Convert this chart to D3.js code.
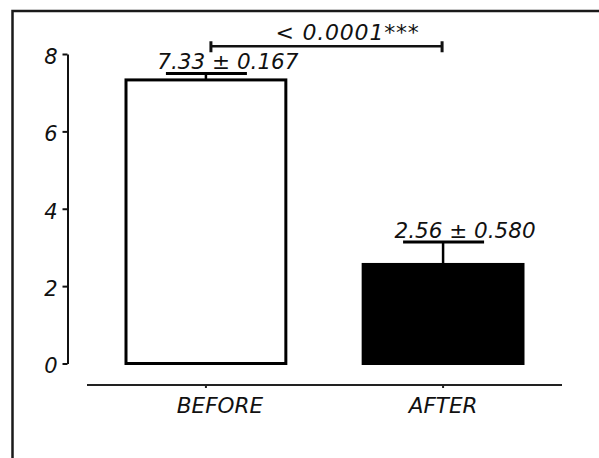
<!DOCTYPE html>
<html>
<head>
<meta charset="utf-8">
<script src="https://cdn.jsdelivr.net/npm/d3@7"></script>
<style>
  html, body { margin: 0; background: #fff; overflow: hidden; }
  svg { display: block; }
  svg text { font-family: "DejaVu Sans", Verdana, sans-serif; font-style: italic; fill: #111; }
</style>
</head>
<body>
<div id="chart"></div>
<script>
// data
var categories = ['BEFORE', 'AFTER'];
var means = [7.33, 2.56];
var sems = [0.167, 0.580];
var meanLabels = ['7.33 \u00b1 0.167', '2.56 \u00b1 0.580'];
var barFills = ['#fff', '#000'];
var yTicks = [0, 2, 4, 6, 8];
var pLabel = '< 0.0001***';
var pLevel = 8.2; // height of the bracket, in data units

var width = 599, height = 458;

var svg = d3.select('#chart').append('svg')
    .attr('width', width)
    .attr('height', height);

// outer frame, runs off the right and bottom edges
svg.append('path')
    .attr('d', 'M12.5,' + height + 'V11H' + width)
    .attr('fill', 'none')
    .attr('stroke', '#1a1a1a')
    .attr('stroke-width', 2.5);

var x = d3.scaleBand()
    .domain(categories)
    .range([126, 523])
    .paddingInner(0.326)
    .paddingOuter(0);

var y = d3.scaleLinear()
    .domain([0, 8])
    .range([363.5, 54]);

var cx = d => x(d) + x.bandwidth() / 2;

// y axis
var yAxis = svg.append('g')
    .attr('transform', 'translate(67.5,0)')
    .call(d3.axisLeft(y).tickValues(yTicks).tickSize(5).tickSizeOuter(0).tickPadding(5));
yAxis.selectAll('path, line').attr('stroke', '#111').attr('stroke-width', 2);
yAxis.selectAll('text')
    .attr('font-size', 21)
    .attr('dy', '0.45em')
    .style('font-family', '"DejaVu Sans", Verdana, sans-serif');

// x axis, its line runs past the bars on both sides
var xAxis = svg.append('g')
    .attr('transform', 'translate(0,385)')
    .call(d3.axisBottom(x).tickSize(3).tickSizeOuter(0).tickPadding(10));
xAxis.select('.domain')
    .attr('d', 'M' + (x.range()[0] - 39) + ',0H' + (x.range()[1] + 39));
xAxis.selectAll('path, line').attr('stroke', '#222').attr('stroke-width', 2);
xAxis.selectAll('text')
    .attr('font-size', 21.5)
    .attr('dx', (d, i) => i === 0 ? 14 : 0)
    .style('font-family', '"DejaVu Sans", Verdana, sans-serif');

// bars
svg.append('g').selectAll('rect')
    .data(categories)
    .join('rect')
    .attr('x', d => x(d))
    .attr('y', (d, i) => y(means[i]))
    .attr('width', x.bandwidth())
    .attr('height', (d, i) => y(0) - y(means[i]))
    .attr('fill', (d, i) => barFills[i])
    .attr('stroke', '#000')
    .attr('stroke-width', 3);

// error bars (upper only)
var err = svg.append('g').attr('stroke', '#000');
err.selectAll('.stem')
    .data(categories)
    .join('line')
    .attr('class', 'stem')
    .attr('x1', cx).attr('x2', cx)
    .attr('y1', (d, i) => y(means[i]))
    .attr('y2', (d, i) => y(means[i] + sems[i]))
    .attr('stroke-width', 2.5);
err.selectAll('.cap')
    .data(categories)
    .join('line')
    .attr('class', 'cap')
    .attr('x1', d => cx(d) - 40).attr('x2', d => cx(d) + 41)
    .attr('y1', (d, i) => y(means[i] + sems[i]))
    .attr('y2', (d, i) => y(means[i] + sems[i]))
    .attr('stroke-width', 3);

// mean +/- sem labels
svg.append('g').selectAll('text')
    .data(categories)
    .join('text')
    .attr('x', d => cx(d) + 22)
    .attr('y', (d, i) => y(means[i] + sems[i]) - 4)
    .attr('text-anchor', 'middle')
    .attr('font-size', 21.5)
    .text((d, i) => meanLabels[i]);

// significance bracket
var bx0 = cx(categories[0]) + 5, bx1 = cx(categories[1]) - 1, by = y(pLevel);
var br = svg.append('g').attr('stroke', '#111').attr('fill', 'none');
br.append('line')
    .attr('x1', bx0).attr('x2', bx1).attr('y1', by).attr('y2', by)
    .attr('stroke-width', 2.5);
[bx0, bx1].forEach(bx => {
    br.append('line')
        .attr('x1', bx).attr('x2', bx)
        .attr('y1', by - 5).attr('y2', by + 6)
        .attr('stroke-width', 3);
});
svg.append('text')
    .attr('x', (bx0 + bx1) / 2 + 21)
    .attr('y', by - 6)
    .attr('text-anchor', 'middle')
    .attr('font-size', 22)
    .attr('letter-spacing', 0.8)
    .text(pLabel);
</script>
</body>
</html>
